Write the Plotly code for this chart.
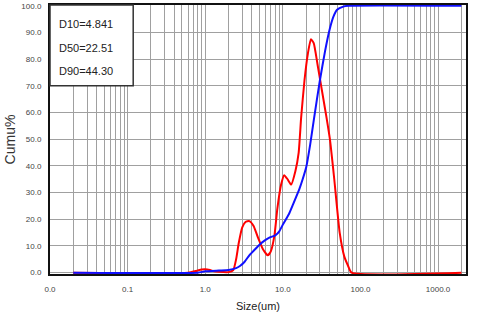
import numpy as np
import plotly.graph_objects as go

# Red: frequency distribution (plotted on same % axis)
red_x = [0.02, 0.6, 0.75, 0.9, 1.0, 1.15, 1.3, 1.5, 2.0, 2.3, 2.5, 2.7, 3.0, 3.3, 3.7, 4.2, 4.8, 5.5,
         6.4, 7.0, 7.8, 8.5, 9.5, 10.4, 11.5, 12.8, 14.5, 16.0, 17.2, 19.0, 21.0, 23.0, 25.0, 28.0,
         32.0, 36.6, 40.4, 46.0, 54.0, 62.0, 69.0, 77.0, 2000.0]
red_y = [0, 0, 0.6, 1.2, 1.3, 1.0, 0.5, 0.3, 0.2, 1.0, 5, 11, 17, 19, 19.3, 17.5, 13, 9,
         6.5, 8, 14, 24, 33, 36.5, 35, 33, 38, 45, 58, 72, 82, 87.5, 86, 78,
         68, 58, 50, 35, 15, 6, 2.7, 0, 0]

# Blue: cumulative %
blue_x = [0.02, 0.8, 1.0, 1.5, 2.0, 2.5, 2.8, 3.2, 3.7, 4.3, 5.0, 5.8, 6.8, 8.0, 9.0, 10.0, 12.0,
          13.5, 16.4, 18.0, 20.0, 22.5, 25.0, 30.0, 35.0, 40.0, 45.0, 50.0, 60.0, 70.0, 2000.0]
blue_y = [0, 0, 0.5, 0.8, 1.0, 1.7, 2.5, 4, 6.5, 8.5, 10.5, 12, 13.2, 14, 15.5, 18, 22,
          25.5, 31.5, 35, 39.5, 48, 57, 72, 83, 91, 96, 98.5, 99.7, 100, 100]

x_tick_major = [0.01, 0.1, 1, 10, 100, 1000]
x_tick_labels = ["0.0", "0.1", "1.0", "10.0", "100.0", "1000.0"]
y_ticks = [0, 10, 20, 30, 40, 50, 60, 70, 80, 90, 100]
y_tick_labels = ["%.1f" % v for v in y_ticks]
stats = ["D10=4.841", "D50=22.51", "D90=44.30"]

# grid positions on log axis (1..9 per decade)
grid_vals, grid_text = [], []
for e in range(-2, 4):
    for m in range(1, 10):
        v = m * 10.0 ** e
        if v > 2300:
            break
        grid_vals.append(v)
        grid_text.append(x_tick_labels[e + 2] if m == 1 else "")

fig = go.Figure()
fig.add_trace(go.Scatter(x=red_x, y=red_y, mode="lines",
                         line=dict(color="#ff0000", width=2, shape="spline", smoothing=0.5)))
fig.add_trace(go.Scatter(x=blue_x, y=blue_y, mode="lines",
                         line=dict(color="#1010ff", width=2, shape="spline", smoothing=0.5)))

fig.update_layout(
    width=480, height=314,
    margin=dict(l=50, r=14, t=5, b=40, autoexpand=False),
    paper_bgcolor="white", plot_bgcolor="white",
    showlegend=False,
    font=dict(family="Liberation Sans, Arial, sans-serif", color="#333333"),
)
fig.update_xaxes(
    type="log", range=[-2, 3.36],
    tickvals=grid_vals, ticktext=grid_text,
    tickfont=dict(size=8, color="#444444"), ticks="", ticklabelstandoff=6,
    showgrid=True, gridcolor="#a0a0a0", gridwidth=1,
    showline=True, linecolor="#111111", linewidth=2, mirror=True,
    zeroline=False, automargin=False, layer="below traces",
    title=dict(text="Size(um)", font=dict(size=11, color="#222222"), standoff=10),
)
fig.update_yaxes(
    range=[-0.5, 100.3],
    tickvals=y_ticks, ticktext=y_tick_labels,
    tickfont=dict(size=8, color="#444444"), ticks="", ticklabelstandoff=5,
    showgrid=True, gridcolor="#a0a0a0", gridwidth=1,
    showline=True, linecolor="#111111", linewidth=2, mirror=True,
    zeroline=False, automargin=False, layer="below traces",
    title=dict(text="Cumu%", font=dict(size=14, color="#333333"), standoff=2),
)

# stats box
fig.add_shape(type="rect", xref="paper", yref="paper",
              x0=0, x1=0.2, y0=0.7, y1=1.0,
              fillcolor="white", line=dict(color="#333333", width=1.5), layer="above")
for i, s in enumerate(stats):
    fig.add_annotation(xref="paper", yref="paper", x=0.018, y=0.93 - i * 0.088,
                       text=s, showarrow=False, xanchor="left", yanchor="middle",
                       font=dict(size=11, color="#222222"))

fig.write_html("out.html", config={"displayModeBar": False},
               post_script="document.body.style.margin='0';")
